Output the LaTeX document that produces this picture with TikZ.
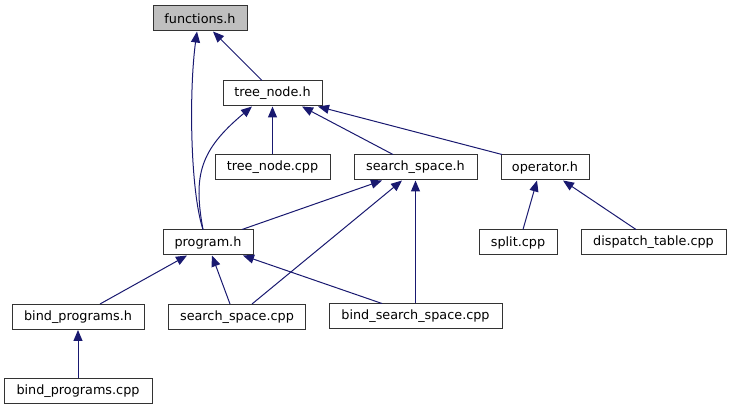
\documentclass[tikz,border=0pt]{standalone}
\usepackage{fontspec}
\setmainfont{DejaVu Sans}
\usetikzlibrary{arrows.meta}
\definecolor{edgeblue}{HTML}{191970}
\definecolor{boxline}{HTML}{333333}
\definecolor{rootfill}{HTML}{BFBFBF}
\tikzset{
  box/.style={draw=boxline, line width=1pt, fill=white, rectangle, inner sep=0pt,
    minimum height=25pt, font=\fontsize{12.8}{15}\selectfont, text=black},
  rootbox/.style={box, fill=rootfill},
  dep/.style={draw=edgeblue, line width=1pt, -{Triangle[length=11pt,width=9pt]}},
}
\begin{document}
\begin{tikzpicture}[x=1pt,y=-1pt]
\useasboundingbox (0,0) rectangle (731,411);
% nodes
\node[rootbox, minimum width=94pt]  (functions) at (200,18.5)   {functions.h};
\node[box, minimum width=99pt]  (treeh)     at (272.5,93.5)  {tree\_node.h};
\node[box, minimum width=115pt] (treecpp)   at (272.5,167.5) {tree\_node.cpp};
\node[box, minimum width=123pt] (ssh)       at (415.5,167.5) {search\_space.h};
\node[box, minimum width=88pt]  (op)        at (545,167.5)   {operator.h};
\node[box, minimum width=90pt]  (program)   at (208,242.5)   {program.h};
\node[box, minimum width=78pt]  (split)     at (518,242.5)   {split.cpp};
\node[box, minimum width=145pt] (dispatch)  at (653.5,242.5) {dispatch\_table.cpp};
\node[box, minimum width=132pt] (bph)       at (78,317)      {bind\_programs.h};
\node[box, minimum width=137pt] (sscpp)     at (237,317)     {search\_space.cpp};
\node[box, minimum width=173pt] (bss)       at (415.5,316.5) {bind\_search\_space.cpp};
\node[box, minimum width=148pt] (bpcpp)     at (78,391.5)    {bind\_programs.cpp};
% edges
\draw[dep] ([xshift=-10.5pt]treeh.north) -- ([xshift=13pt]functions.south);
\draw[dep] ([xshift=-5pt]program.north) .. controls (190,190) and (189,90) .. ([xshift=-3pt]functions.south);
\draw[dep] ([xshift=-5pt]program.north) .. controls (193,175) and (200,150) .. ([xshift=-20.5pt]treeh.south);
\draw[dep] (treecpp.north) -- (treeh.south);
\draw[dep] ([xshift=-22.5pt]ssh.north) -- ([xshift=29.5pt]treeh.south);
\draw[dep] ([xshift=-43pt]op.north) -- ([xshift=45.5pt]treeh.south);
\draw[dep] ([xshift=34pt]program.north) -- ([xshift=-33.5pt]ssh.south);
\draw[dep] ([xshift=15pt]sscpp.north) -- ([xshift=-13.5pt]ssh.south);
\draw[dep] (bss.north) -- (ssh.south);
\draw[dep] ([xshift=5pt]split.north) -- ([xshift=-8pt]op.south);
\draw[dep] ([xshift=-17.5pt]dispatch.north) -- ([xshift=18pt]op.south);
\draw[dep] ([xshift=22pt]bph.north) -- ([xshift=-21pt]program.south);
\draw[dep] ([xshift=-7pt]sscpp.north) -- ([xshift=4pt]program.south);
\draw[dep] ([xshift=-33.5pt]bss.north) -- ([xshift=35pt]program.south);
\draw[dep] (bpcpp.north) -- (bph.south);
\end{tikzpicture}
\end{document}
